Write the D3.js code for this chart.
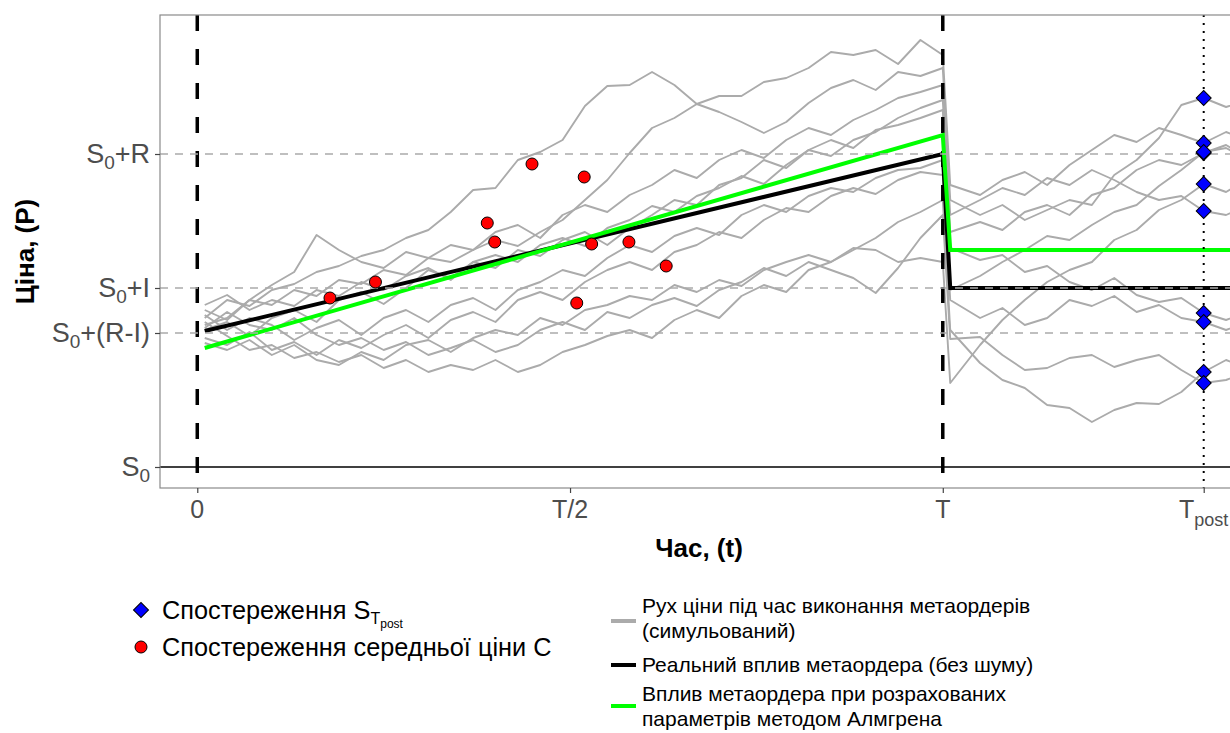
<!DOCTYPE html>
<html>
<head>
<meta charset="utf-8">
<script src="https://cdn.jsdelivr.net/npm/d3@7"></script>
<style>
  body { margin: 0; background: #fff; }
  svg { display: block; font-family: "Liberation Sans", Arial, sans-serif; }
</style>
</head>
<body>
<div id="chart"></div>
<script>
// time in steps, T = 100, T/2 = 50, Tpost = 135
var stepsBefore = [1,4,7,10,13,16,19,22,25,28,31,34,37,40,43,46,49,52,55,58,61,64,67,70,73,76,79,82,85,88,91,94,97,100]
var stepsAfter = [101,105,108,111,114,117,120,123,126,129,132,135,138,141,144,147]
var T_POST = 135

// price levels (S0 = 100)
var yTicks = [100, 113.4, 117.9, 131.3]
var yTickLabels = [['S','0',''], ['S','0','+(R-I)'], ['S','0','+I'], ['S','0','+R']]
var xTicks = [0, 50, 100, 135]
var xTickLabels = [['0',''], ['T/2',''], ['T',''], ['T','post']]

// simulated price paths, during execution
var simBefore = [
  [114.9,116.7,116.1,117.7,118.3,119.5,120.1,121.1,121.7,122.9,123.7,125.5,127.7,127.9,130.7,131.5,132.7,136.1,138.1,138.2,139.5,138.2,136.3,137.1,137.1,138.5,138.9,139.9,141.5,141.2,141.7,140.3,142.7,141.2],
  [115.7,114.7,116.7,116.2,117.7,117.1,118.7,118.3,119.7,119.2,120.9,120.5,121.7,122.7,122.1,123.5,124.7,126.7,128.7,131.4,133.9,134.9,136.3,135.5,134.5,133.4,134.5,136.4,137.9,138.7,137.7,139.5,139.1,139.9],
  [114.2,114.9,116.7,118.2,119.5,123.2,121.7,120.5,119.9,121.5,120.9,122.2,121.7,123.5,124.2,122.9,125.2,126.2,125.5,127.2,128.2,129.7,128.9,130.7,131.7,130.9,132.7,133.9,133.2,134.7,135.7,136.9,137.5,138.2],
  [116.2,117.2,115.7,116.7,116.1,117.7,117.1,118.5,117.7,119.1,119.9,118.7,120.5,121.2,120.5,122.2,122.9,122.1,123.9,124.7,126.1,125.5,127.1,127.9,129.1,128.3,130.2,131.7,131.1,132.7,133.5,134.9,135.9,136.7],
  [113.7,114.5,113.1,114.9,115.7,114.5,116.7,117.5,116.3,117.9,119.7,118.9,120.5,119.9,121.7,121.1,122.7,123.5,122.2,123.9,125.2,126.7,126.2,128.2,128.9,130.7,129.9,131.7,132.7,131.9,133.7,134.2,134.9,135.7],
  [115.2,113.7,114.9,114.2,112.7,113.9,114.7,113.2,114.9,115.7,114.5,116.2,116.9,115.7,117.7,118.5,119.7,119.1,120.9,122.2,121.5,123.1,123.9,123.2,125.2,126.2,125.5,127.1,127.9,127.5,128.9,129.7,129.9,130.7],
  [112.9,112.2,113.5,111.7,112.5,111.2,112.7,111.9,113.2,114.2,112.9,114.7,115.5,114.5,116.7,117.5,116.7,118.5,119.7,120.5,119.7,121.5,122.2,123.5,122.9,124.7,125.9,125.5,127.1,127.9,127.3,128.7,129.5,129.2],
  [114.5,113.1,111.7,112.2,110.9,111.5,110.5,111.2,109.9,110.7,109.5,110.2,109.7,110.7,109.5,110.2,111.5,112.2,113.1,113.7,112.9,114.7,115.7,114.9,117.1,118.2,117.5,119.7,120.5,121.7,122.9,124.5,125.5,126.7],
  [112.4,111.7,112.7,111.2,112.2,110.7,110.2,111.5,110.7,112.2,112.7,111.5,112.9,113.7,113.2,114.9,114.2,115.7,116.2,117.1,116.7,118.2,117.5,118.7,118.1,119.7,120.5,121.2,120.5,121.9,121.7,120.5,120.9,120.5],
  [113.9,115.5,114.2,113.7,114.9,113.2,112.2,112.9,111.7,112.5,111.2,111.9,112.7,111.5,112.2,113.7,114.5,113.7,115.5,114.9,116.2,116.9,116.1,117.7,118.5,119.9,119.1,120.5,119.7,118.9,117.4,119.9,122.9,125.2]
]
// the same paths after execution
var simAfter = [
  [128.2,127.2,128.7,129.5,128.2,130.2,131.7,133.2,132.5,133.9,133.2,132.4,133.5,132.7,133.9,133.2],
  [126.7,125.2,126.2,124.7,125.7,126.7,126.2,129.2,130.7,132.9,136.2,136.9,136.0,136.7,135.5,136.2],
  [125.2,126.7,127.9,127.2,128.9,128.2,129.7,128.7,127.5,126.7,127.1,125.6,125.2,126.2,124.7,125.5],
  [123.5,124.5,123.7,125.5,126.2,125.2,127.2,127.9,129.7,130.7,130.2,131.4,132.2,130.9,131.7,130.7],
  [121.9,120.7,121.2,119.5,120.1,118.5,117.7,118.9,117.2,116.5,116.9,115.4,114.7,115.5,114.2,114.9],
  [117.7,119.1,120.5,121.7,123.1,122.7,124.2,125.5,126.2,128.1,129.7,131.5,131.9,130.7,131.7,130.5],
  [116.7,114.9,115.9,114.2,114.9,116.7,116.1,117.1,115.5,116.2,114.9,114.5,113.7,114.5,112.9,113.7],
  [113.7,110.4,108.7,107.9,106.2,105.9,104.5,105.7,106.4,106.3,107.5,109.5,110.7,109.9,111.2,110.5],
  [108.4,112.2,114.7,116.7,118.5,119.7,120.5,122.7,123.7,125.7,126.7,128.3,127.5,128.9,128.2,129.5],
  [112.8,113.0,111.2,109.7,109.9,110.9,111.2,110.0,110.7,111.2,109.7,108.4,108.7,109.6,108.2,108.9]
]

// observed mid prices C
var midT = [17.8, 23.9, 38.9, 39.9, 44.9, 51.9, 50.9, 52.9, 57.9, 62.9]
var midP = [116.9, 118.5, 124.4, 122.5, 130.3, 129.0, 116.4, 122.3, 122.5, 120.1]

// real impact and Almgren-fit impact
var realT = [1, 100, 101, 150]
var realP = [113.6, 131.3, 117.9, 117.9]
var fitT = [1, 100, 101, 150]
var fitP = [111.9, 133.2, 121.7, 121.7]

var W = 1230, H = 733
var pLeft = 160, pTop = 15, pRight = 1238, pBottom = 488

var svg = d3.select('#chart').append('svg')
  .attr('width', W)
  .attr('height', H)

var x = d3.scaleLinear().domain([-5, 139.6]).range([pLeft, pRight])
var y = d3.scaleLinear().domain([97.9, 145.2]).range([pBottom, pTop])

svg.append('clipPath').attr('id', 'clip')
  .append('rect')
  .attr('x', pLeft).attr('y', pTop)
  .attr('width', pRight - pLeft).attr('height', pBottom - pTop)

var plot = svg.append('g').attr('clip-path', 'url(#clip)')

var line = d3.line().x(function(d){ return x(d[0]) }).y(function(d){ return y(d[1]) })

// gray simulated paths
simBefore.forEach(function(pre, k){
  var pts = stepsBefore.map(function(t, i){ return [t, pre[i]] })
    .concat(stepsAfter.map(function(t, i){ return [t, simAfter[k][i]] }))
  plot.append('path')
    .attr('d', line(pts))
    .attr('fill', 'none')
    .attr('stroke', '#ababab')
    .attr('stroke-width', 1.9)
    .attr('stroke-linejoin', 'round')
})

// vertical dashed at 0 and T
;[0, 100].forEach(function(t){
  plot.append('line')
    .attr('x1', x(t)).attr('x2', x(t))
    .attr('y1', pTop).attr('y2', pBottom)
    .attr('stroke', '#000')
    .attr('stroke-width', 3.5)
    .attr('stroke-dasharray', '16,18')
})

// real impact (black) and fitted impact (green)
plot.append('path')
  .attr('d', line(realT.map(function(t, i){ return [t, realP[i]] })))
  .attr('fill', 'none').attr('stroke', '#000').attr('stroke-width', 4)
plot.append('path')
  .attr('d', line(fitT.map(function(t, i){ return [t, fitP[i]] })))
  .attr('fill', 'none').attr('stroke', '#00ff00').attr('stroke-width', 4)

// horizontal reference lines
yTicks.slice(1).forEach(function(v){
  plot.append('line')
    .attr('x1', pLeft).attr('x2', pRight)
    .attr('y1', y(v)).attr('y2', y(v))
    .attr('stroke', '#ababab')
    .attr('stroke-width', 1.6)
    .attr('stroke-dasharray', '8,7')
})
plot.append('line')
  .attr('x1', pLeft).attr('x2', pRight)
  .attr('y1', y(yTicks[0])).attr('y2', y(yTicks[0]))
  .attr('stroke', '#000').attr('stroke-width', 1.6)

// dotted Tpost
plot.append('line')
  .attr('x1', x(T_POST)).attr('x2', x(T_POST))
  .attr('y1', pTop).attr('y2', pBottom)
  .attr('stroke', '#000')
  .attr('stroke-width', 2)
  .attr('stroke-dasharray', '2,6')

// observations of mid price
plot.selectAll('circle.mid')
  .data(midT.map(function(t, i){ return [t, midP[i]] }))
  .join('circle')
  .attr('class', 'mid')
  .attr('cx', function(d){ return x(d[0]) })
  .attr('cy', function(d){ return y(d[1]) })
  .attr('r', 6)
  .attr('fill', '#ff0000')
  .attr('stroke', '#000')
  .attr('stroke-width', 1)

// observations at Tpost
var diamond = d3.symbol().type(d3.symbolSquare).size(112)
var postIdx = stepsAfter.indexOf(T_POST)
plot.selectAll('path.post')
  .data(simAfter.map(function(a){ return a[postIdx] }))
  .join('path')
  .attr('class', 'post')
  .attr('d', diamond)
  .attr('transform', function(v){ return 'translate(' + x(T_POST) + ',' + y(v) + ') rotate(45)' })
  .attr('fill', '#0000ff')
  .attr('stroke', '#000')
  .attr('stroke-width', 1)

// panel border
svg.append('rect')
  .attr('x', pLeft).attr('y', pTop)
  .attr('width', pRight - pLeft).attr('height', pBottom - pTop)
  .attr('fill', 'none').attr('stroke', '#8a8a8a').attr('stroke-width', 1.2)

// axes
var yAxis = svg.append('g')
  .attr('transform', 'translate(' + pLeft + ',0)')
  .call(d3.axisLeft(y).tickValues(yTicks).tickSize(5).tickFormat(''))
var xAxis = svg.append('g')
  .attr('transform', 'translate(0,' + pBottom + ')')
  .call(d3.axisBottom(x).tickValues(xTicks).tickSize(5).tickFormat(''))
;[yAxis, xAxis].forEach(function(a){
  a.select('.domain').remove()
  a.selectAll('.tick line').attr('stroke', '#444').attr('stroke-width', 1.2)
})

yTicks.forEach(function(v, i){
  var lab = yTickLabels[i]
  var t = svg.append('text')
    .attr('x', 150).attr('y', y(v) + 9)
    .attr('text-anchor', 'end')
    .attr('fill', '#4d4d4d')
    .style('font-size', '27px')
  t.append('tspan').text(lab[0])
  t.append('tspan').attr('dy', 6).style('font-size', '19px').text(lab[1])
  if(lab[2]){
    t.append('tspan').attr('dy', -6).text(lab[2])
  }
})

xTicks.forEach(function(v, i){
  var lab = xTickLabels[i]
  var t = svg.append('text')
    .attr('x', x(v)).attr('y', 518)
    .attr('text-anchor', 'middle')
    .attr('fill', '#4d4d4d')
    .style('font-size', '25px')
  t.append('tspan').text(lab[0])
  if(lab[1]){
    t.append('tspan').attr('dy', 8).style('font-size', '18px').text(lab[1])
  }
})

// axis titles
svg.append('text')
  .attr('x', (pLeft + pRight) / 2).attr('y', 557)
  .attr('text-anchor', 'middle')
  .style('font-size', '26px').style('font-weight', 'bold')
  .text('Час, (t)')
svg.append('text')
  .attr('transform', 'translate(34,' + ((pTop + pBottom) / 2) + ') rotate(-90)')
  .attr('text-anchor', 'middle')
  .style('font-size', '26px').style('font-weight', 'bold')
  .text('Ціна, (P)')

// legend: points
var lg = svg.append('g')
lg.append('path')
  .attr('d', diamond)
  .attr('transform', 'translate(141,610) rotate(45)')
  .attr('fill', '#0000ff').attr('stroke', '#000').attr('stroke-width', 1)
var l1 = lg.append('text').attr('x', 162).attr('y', 619).style('font-size', '25.3px')
l1.append('tspan').text('Спостереження S')
l1.append('tspan').attr('dy', 5).style('font-size', '16px').text('T')
l1.append('tspan').attr('dy', 4).style('font-size', '12px').text('post')
lg.append('circle')
  .attr('cx', 141).attr('cy', 647).attr('r', 6)
  .attr('fill', '#ff0000').attr('stroke', '#000').attr('stroke-width', 1)
lg.append('text').attr('x', 162).attr('y', 656).style('font-size', '25.3px')
  .text('Спостереження середньої ціни С')

// legend: lines
var keys = [
  {color: '#ababab', ky: 621, lines: ['Рух ціни під час виконання метаордерів', '(симульований)'], ty: 613},
  {color: '#000', ky: 665, lines: ['Реальний вплив метаордера (без шуму)'], ty: 672},
  {color: '#00ff00', ky: 706, lines: ['Вплив метаордера при розрахованих', 'параметрів методом Алмгрена'], ty: 701}
]
keys.forEach(function(k){
  lg.append('line')
    .attr('x1', 611).attr('x2', 636)
    .attr('y1', k.ky).attr('y2', k.ky)
    .attr('stroke', k.color).attr('stroke-width', 4)
  k.lines.forEach(function(s, i){
    lg.append('text').attr('x', 642).attr('y', k.ty + i * 25)
      .style('font-size', '21px').text(s)
  })
})
</script>
</body>
</html>
